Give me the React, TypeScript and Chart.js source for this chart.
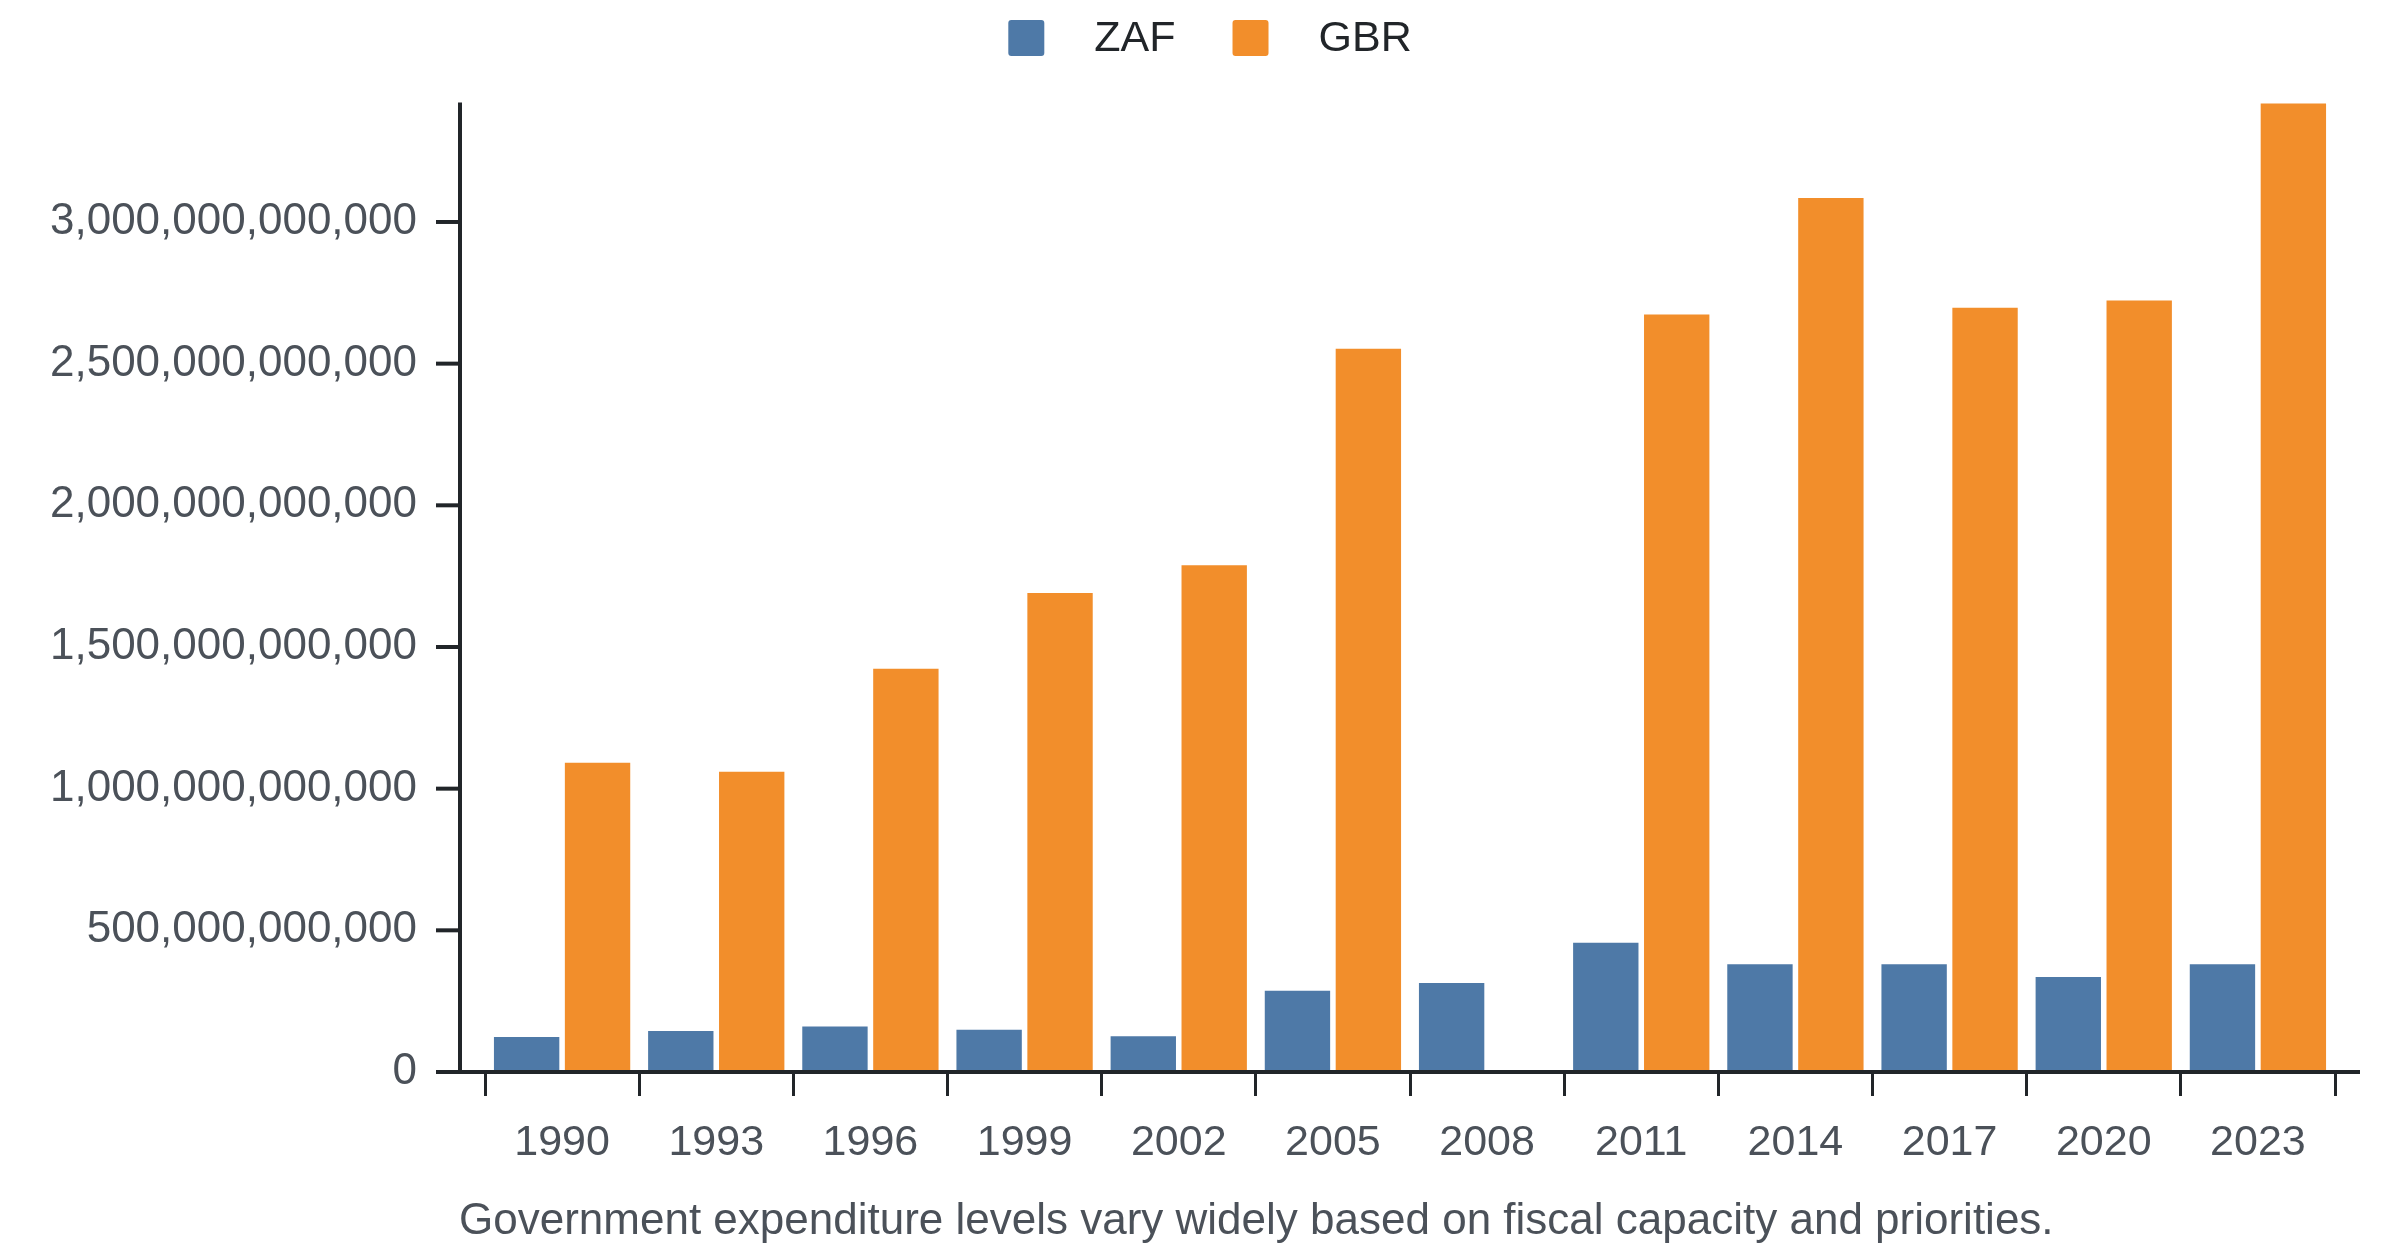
import React, { useEffect, useRef } from "react";
import Chart from "chart.js/auto";

const years = ["1990", "1993", "1996", "1999", "2002", "2005", "2008", "2011", "2014", "2017", "2020", "2023"];
const zafSpending = [127e9, 148e9, 164e9, 153e9, 130e9, 290e9, 318e9, 460e9, 384e9, 384e9, 339e9, 384e9];
const gbrSpending = [1095e9, 1063e9, 1427e9, 1694e9, 1792e9, 2556e9, null, 2677e9, 3088e9, 2701e9, 2726e9, 3422e9];
const seriesNames = ["ZAF", "GBR"];
const seriesColors = ["#4e79a7", "#f28e2b"];
const yStep = 500e9;
const caption = "Government expenditure levels vary widely based on fiscal capacity and priorities.";

const FONT = "'Liberation Sans', Arial, sans-serif";
const INK = "#212529";
const LABEL = "#4b5159";

// axis lines, y tick marks, legend and caption
const decor = {
  id: "decor",
  afterDraw(chart: any) {
    const { ctx, chartArea } = chart;
    const y = chart.scales.y;
    const axisX = chartArea.left - 25;
    ctx.save();
    ctx.strokeStyle = INK;
    ctx.lineWidth = 4;
    ctx.beginPath();
    ctx.moveTo(axisX, chartArea.top);
    ctx.lineTo(axisX, chartArea.bottom);
    ctx.stroke();
    y.ticks.forEach((t: any) => {
      const py = y.getPixelForValue(t.value);
      ctx.beginPath();
      ctx.moveTo(axisX - 24, py);
      ctx.lineTo(axisX, py);
      ctx.stroke();
    });
    ctx.beginPath();
    ctx.moveTo(axisX - 24, chartArea.bottom);
    ctx.lineTo(chartArea.right + 25, chartArea.bottom);
    ctx.stroke();

    // legend
    ctx.font = `43px ${FONT}`;
    ctx.textBaseline = "middle";
    ctx.textAlign = "left";
    const widths = seriesNames.map((n) => ctx.measureText(n).width);
    const box = 36;
    const gap = 50;
    const spacing = 57;
    const total = widths.reduce((a, w) => a + box + gap + w, 0) + spacing * (seriesNames.length - 1);
    let lx = chart.width / 2 + 10 - total / 2;
    const ly = 12;
    seriesNames.forEach((n, i) => {
      ctx.fillStyle = seriesColors[i];
      ctx.beginPath();
      ctx.roundRect(lx, ly, box, box, 3);
      ctx.fill();
      ctx.fillStyle = INK;
      ctx.fillText(n, lx + box + gap, ly + box / 2 + 1);
      lx += box + gap + widths[i] + spacing;
    });

    // caption
    ctx.font = `44px ${FONT}`;
    ctx.fillStyle = LABEL;
    ctx.textBaseline = "alphabetic";
    ctx.fillText(caption, axisX - 1, 1226);
    ctx.restore();
  },
};

const App: React.FC = () => {
  const canvas = useRef<HTMLCanvasElement>(null);
  const chart = useRef<Chart>();

  useEffect(() => {
    const maxValue = Math.max(...(zafSpending as number[]), ...(gbrSpending.filter((v) => v !== null) as number[]));
    chart.current = new Chart(canvas.current!.getContext("2d")!, {
      type: "bar",
      data: {
        labels: years,
        datasets: [
          {
            label: seriesNames[0],
            data: zafSpending,
            backgroundColor: seriesColors[0],
            borderColor: "rgba(255,255,255,0.45)",
            borderWidth: 1,
          },
          {
            label: seriesNames[1],
            data: gbrSpending,
            backgroundColor: seriesColors[1],
            borderColor: "rgba(255,255,255,0.45)",
            borderWidth: 1,
          },
        ],
      },
      plugins: [decor],
      options: {
        responsive: true,
        maintainAspectRatio: false,
        animation: false,
        devicePixelRatio: 1,
        layout: { padding: { top: 92, right: 57, left: 0, bottom: 0 } },
        datasets: {
          bar: { categoryPercentage: 0.92, barPercentage: 0.95 },
        },
        plugins: {
          legend: { display: false },
          title: { display: false },
          tooltip: { enabled: false },
        },
        scales: {
          x: {
            border: { display: false },
            grid: {
              display: true,
              drawOnChartArea: false,
              drawTicks: true,
              tickLength: 24,
              lineWidth: 3,
              color: INK,
              offset: true,
            },
            ticks: {
              padding: 21,
              color: LABEL,
              font: { family: FONT, size: 43 },
              maxRotation: 0,
              autoSkip: false,
            },
            afterFit: (scale: any) => {
              scale.height = 176;
            },
          },
          y: {
            min: 0,
            max: maxValue,
            border: { display: false },
            grid: { display: false, drawTicks: false },
            ticks: {
              padding: 68,
              color: LABEL,
              font: { family: FONT, size: 44 },
              callback: (v: any) => Number(v).toLocaleString("en-US"),
            },
            afterBuildTicks: (scale: any) => {
              const ticks = [];
              for (let v = 0; v <= scale.max; v += yStep) ticks.push({ value: v });
              scale.ticks = ticks;
            },
            afterFit: (scale: any) => {
              scale.width = 477;
            },
          },
        },
      },
    });

    return () => {
      chart.current?.destroy();
    };
  }, []);

  return (
    <div style={{ width: "100%", height: 1240, position: "relative" }}>
      <canvas ref={canvas}></canvas>
    </div>
  );
};

export default App;
